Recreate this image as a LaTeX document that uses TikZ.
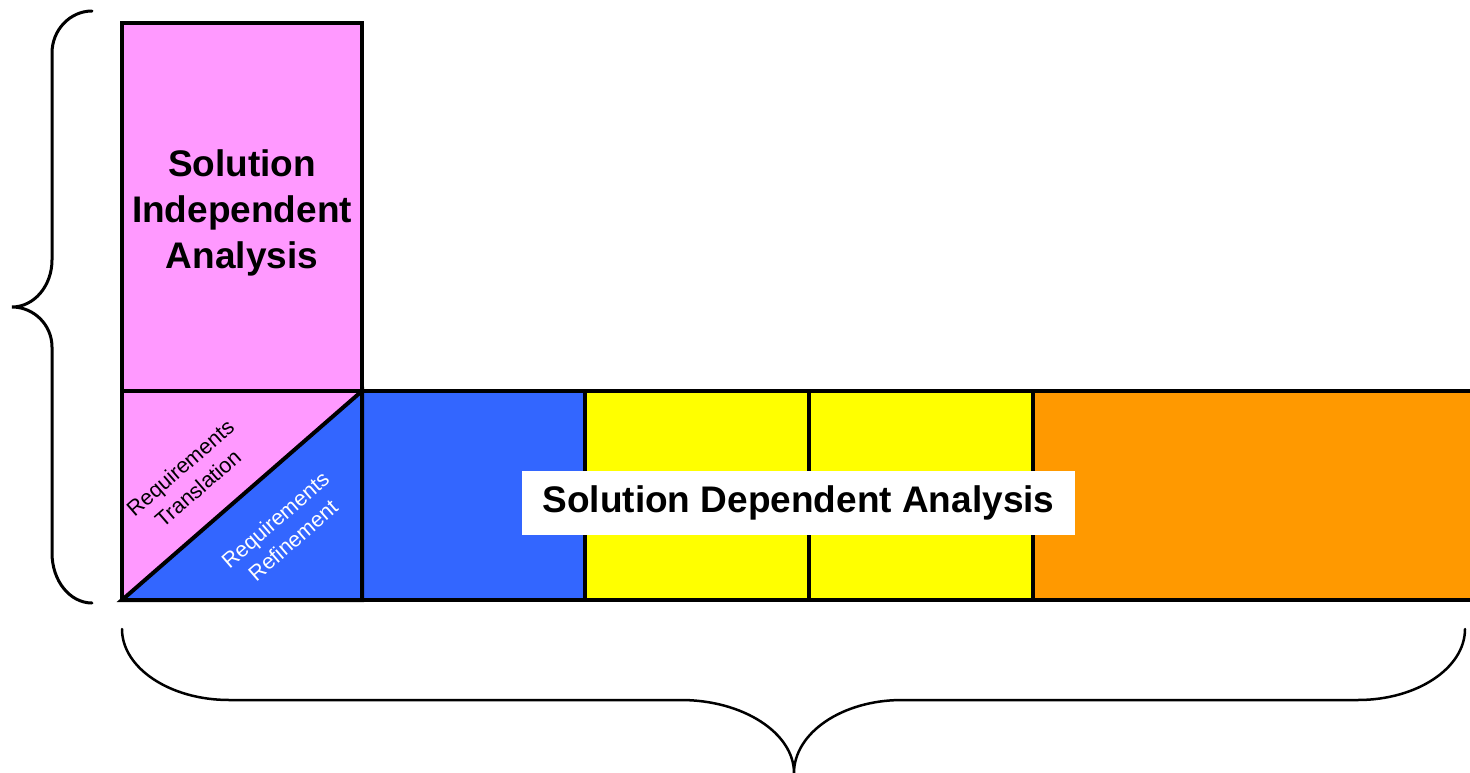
\documentclass[tikz,border=0pt]{standalone}
\usepackage{fontspec}
\setmainfont{Liberation Sans}
\usetikzlibrary{positioning}

\definecolor{sipink}{HTML}{FF99FF}
\definecolor{refblue}{HTML}{3366FF}
\definecolor{sdyellow}{HTML}{FFFF00}
\definecolor{sdorange}{HTML}{FF9900}

\tikzset{
  cell/.style={draw, line width=4pt, inner sep=0pt, outer sep=0pt, anchor=north west, minimum height=209pt},
  smalllabel/.style={font=\fontsize{21.5}{27}\selectfont, align=center, rotate=41},
  brace/.style={line width=3pt, line cap=round}
}

\begin{document}
\begin{tikzpicture}[x=1pt, y=-1pt]
  \useasboundingbox (0,0) rectangle (1470,773);

  % Solution independent part
  \node[cell, fill=sipink, minimum width=240pt, minimum height=368pt] (indep) at (122,23) {};
  \node[inner sep=0pt, align=center,
        font=\bfseries\fontsize{37}{46}\selectfont] (indeplab) at (242,213)
        {Solution\\Independent\\Analysis};

  % Lower row of phases
  \node[cell, fill=sipink, minimum width=240pt] (trans) at (122,391) {};
  \node[cell, fill=refblue, minimum width=223pt, right=0pt of trans] (phaseA) {};
  \node[cell, fill=sdyellow, minimum width=224pt, right=0pt of phaseA] (phaseB) {};
  \node[cell, fill=sdyellow, minimum width=224pt, right=0pt of phaseB] (phaseC) {};
  \node[cell, fill=sdorange, minimum width=447pt, right=0pt of phaseC] (phaseD) {};

  % Split of the first square
  \filldraw[refblue, draw=black, line width=4pt]
    (trans.south west) -- (trans.north east) -- (trans.south east) -- cycle;
  \node[smalllabel] (translab) at (189,478) {Requirements\\Translation};
  \node[smalllabel, white] (reflab) at (284,530) {Requirements\\Refinement};

  % Label over the row
  \node[fill=white, minimum width=553pt, minimum height=64pt, inner sep=0pt,
        font=\bfseries\fontsize{37}{40}\selectfont] (deplab) at (798.5,503)
        {\raisebox{-4pt}{Solution Dependent Analysis}};

  % Left brace
  \draw[brace] (92,11) .. controls (70,11) and (52,30) .. (52,53) -- (52,260)
    .. controls (52,286) and (34,307) .. (12,307)
    .. controls (34,307) and (52,325) .. (52,347) -- (52,553)
    .. controls (52,581) and (70,603) .. (92,603);

  % Bottom brace
  \draw[brace, line width=2.5pt] (122,629) .. controls (122,668) and (170,700) .. (229,700) -- (681,700)
    .. controls (743,700) and (794,733) .. (794,773)
    .. controls (794,733) and (842,700) .. (902,700) -- (1358,700)
    .. controls (1417,700) and (1465,668) .. (1465,629);
\end{tikzpicture}
\end{document}
